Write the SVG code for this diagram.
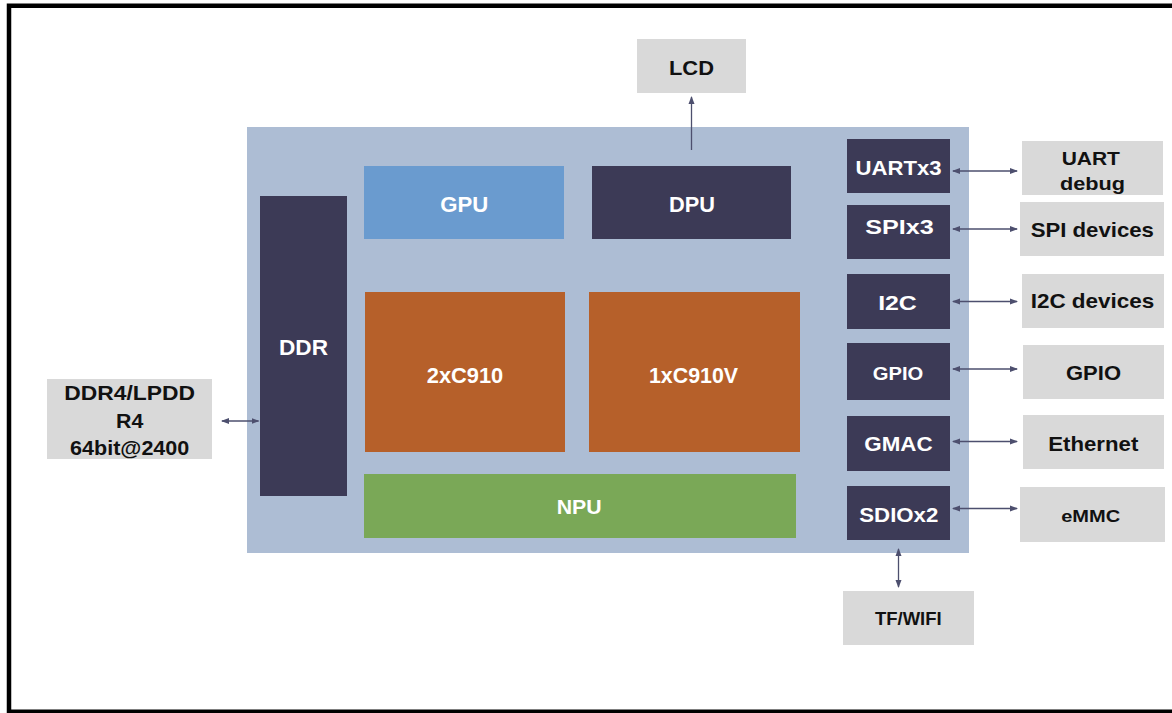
<svg xmlns="http://www.w3.org/2000/svg" width="1172" height="713" viewBox="0 0 1172 713">
<style>
.t{font-family:"Liberation Sans",Arial,sans-serif;font-weight:bold;text-anchor:middle}
.w{fill:#ffffff}
.k{fill:#111111}
.dark{fill:#3c3a56}
.ext{fill:#d9d9d9}
.conn{stroke:#4d4f6e;stroke-width:1.3;fill:none}
</style>
<defs>
<marker id="ah" viewBox="0 0 8 8" refX="7" refY="4" markerWidth="8" markerHeight="8" markerUnits="userSpaceOnUse" orient="auto-start-reverse">
<path d="M0,1 L8,4 L0,7 Z" fill="#4d4f6e"/>
</marker>
</defs>
<rect width="1172" height="713" fill="#ffffff"/>
<path d="M1172,5.8 H9 V711.8 H1172" fill="none" stroke="#000" stroke-width="4.5"/>

<g id="chip"><rect x="247" y="127" width="722" height="426" fill="#adbdd4"/></g>

<g id="ddr"><rect class="dark" x="260" y="196" width="87" height="300"/><text class="t w" x="303.5" y="355" font-size="22.5" textLength="49" lengthAdjust="spacingAndGlyphs">DDR</text></g>
<g id="gpu"><rect x="364" y="166" width="200" height="73" fill="#6a9bcf"/><text class="t w" x="464.2" y="211.5" font-size="21.5" textLength="48" lengthAdjust="spacingAndGlyphs">GPU</text></g>
<g id="dpu"><rect class="dark" x="592" y="166" width="199" height="73"/><text class="t w" x="692" y="211.5" font-size="21.5" textLength="46" lengthAdjust="spacingAndGlyphs">DPU</text></g>
<g id="c910"><rect x="365" y="292" width="200" height="160" fill="#b6602a"/><text class="t w" x="465" y="382.7" font-size="21.5" textLength="76.5" lengthAdjust="spacingAndGlyphs">2xC910</text></g>
<g id="c910v"><rect x="589" y="292" width="211" height="160" fill="#b6602a"/><text class="t w" x="693.5" y="382.7" font-size="21.5" textLength="89" lengthAdjust="spacingAndGlyphs">1xC910V</text></g>
<g id="npu"><rect x="364" y="474" width="432" height="64" fill="#7aa857"/><text class="t w" x="579.2" y="514" font-size="20.5" textLength="45" lengthAdjust="spacingAndGlyphs">NPU</text></g>

<g id="uart"><rect class="dark" x="847" y="139" width="103" height="54"/><text class="t w" x="898.5" y="174.5" font-size="21" textLength="86" lengthAdjust="spacingAndGlyphs">UARTx3</text></g>
<g id="spi"><rect class="dark" x="847" y="205" width="103" height="54"/><text class="t w" x="899.5" y="234" font-size="20" textLength="68.5" lengthAdjust="spacingAndGlyphs">SPIx3</text></g>
<g id="i2c"><rect class="dark" x="847" y="274" width="103" height="55"/><text class="t w" x="897.5" y="309.5" font-size="21" textLength="38.7" lengthAdjust="spacingAndGlyphs">I2C</text></g>
<g id="gpio"><rect class="dark" x="847" y="343" width="103" height="57"/><text class="t w" x="898" y="379.5" font-size="18.5" textLength="50.5" lengthAdjust="spacingAndGlyphs">GPIO</text></g>
<g id="gmac"><rect class="dark" x="847" y="416" width="103" height="55"/><text class="t w" x="898.5" y="450.5" font-size="19.5" textLength="68.3" lengthAdjust="spacingAndGlyphs">GMAC</text></g>
<g id="sdio"><rect class="dark" x="847" y="486" width="103" height="54"/><text class="t w" x="898.8" y="522" font-size="20" textLength="79" lengthAdjust="spacingAndGlyphs">SDIOx2</text></g>

<g id="lcd"><rect class="ext" x="637" y="39" width="109" height="54"/><text class="t k" x="691.5" y="75" font-size="20.5" textLength="45" lengthAdjust="spacingAndGlyphs">LCD</text></g>
<g id="uartdbg"><rect class="ext" x="1022" y="141" width="141" height="54"/><text class="t k" x="1090.8" y="165" font-size="19" textLength="58.3" lengthAdjust="spacingAndGlyphs">UART</text><text class="t k" x="1092.5" y="190" font-size="19" textLength="65" lengthAdjust="spacingAndGlyphs">debug</text></g>
<g id="spidev"><rect class="ext" x="1020" y="202" width="144" height="54"/><text class="t k" x="1092.3" y="236.5" font-size="20.5" textLength="123.3" lengthAdjust="spacingAndGlyphs">SPI devices</text></g>
<g id="i2cdev"><rect class="ext" x="1022" y="274" width="142" height="54"/><text class="t k" x="1092.5" y="307.8" font-size="20.5" textLength="123.7" lengthAdjust="spacingAndGlyphs">I2C devices</text></g>
<g id="gpioext"><rect class="ext" x="1023" y="345" width="141" height="54"/><text class="t k" x="1093.5" y="380" font-size="21" textLength="55" lengthAdjust="spacingAndGlyphs">GPIO</text></g>
<g id="ethernet"><rect class="ext" x="1023" y="415" width="141" height="54"/><text class="t k" x="1093.3" y="450.7" font-size="19.5" textLength="90" lengthAdjust="spacingAndGlyphs">Ethernet</text></g>
<g id="emmc"><rect class="ext" x="1020" y="487" width="145" height="55"/><text class="t k" x="1090.7" y="522" font-size="16.5" textLength="59" lengthAdjust="spacingAndGlyphs">eMMC</text></g>
<g id="tfwifi"><rect class="ext" x="843" y="591" width="131" height="54"/><text class="t k" x="908.3" y="625" font-size="17.5" textLength="66.7" lengthAdjust="spacingAndGlyphs">TF/WIFI</text></g>
<g id="ddrext"><rect class="ext" x="47" y="379" width="165" height="80"/><text class="t k" x="129.7" y="400" font-size="21" textLength="130.7" lengthAdjust="spacingAndGlyphs">DDR4/LPDD</text><text class="t k" x="129.7" y="428.3" font-size="21" textLength="27.3" lengthAdjust="spacingAndGlyphs">R4</text><text class="t k" x="129.7" y="455" font-size="21" textLength="119.3" lengthAdjust="spacingAndGlyphs">64bit@2400</text></g>

<g id="connectors">
<line class="conn" x1="691.5" y1="150" x2="691.5" y2="97" marker-end="url(#ah)"/>
<line class="conn" x1="953" y1="171" x2="1017" y2="171" marker-start="url(#ah)" marker-end="url(#ah)"/>
<line class="conn" x1="953" y1="229" x2="1017" y2="229" marker-start="url(#ah)" marker-end="url(#ah)"/>
<line class="conn" x1="953" y1="301.5" x2="1017" y2="301.5" marker-start="url(#ah)" marker-end="url(#ah)"/>
<line class="conn" x1="953" y1="369" x2="1017" y2="369" marker-start="url(#ah)" marker-end="url(#ah)"/>
<line class="conn" x1="953" y1="441.5" x2="1017" y2="441.5" marker-start="url(#ah)" marker-end="url(#ah)"/>
<line class="conn" x1="953" y1="508.5" x2="1017" y2="508.5" marker-start="url(#ah)" marker-end="url(#ah)"/>
<line class="conn" x1="898.5" y1="549" x2="898.5" y2="587" marker-start="url(#ah)" marker-end="url(#ah)"/>
<line class="conn" x1="222" y1="421" x2="258.5" y2="421" marker-start="url(#ah)" marker-end="url(#ah)"/>
</g>
</svg>
